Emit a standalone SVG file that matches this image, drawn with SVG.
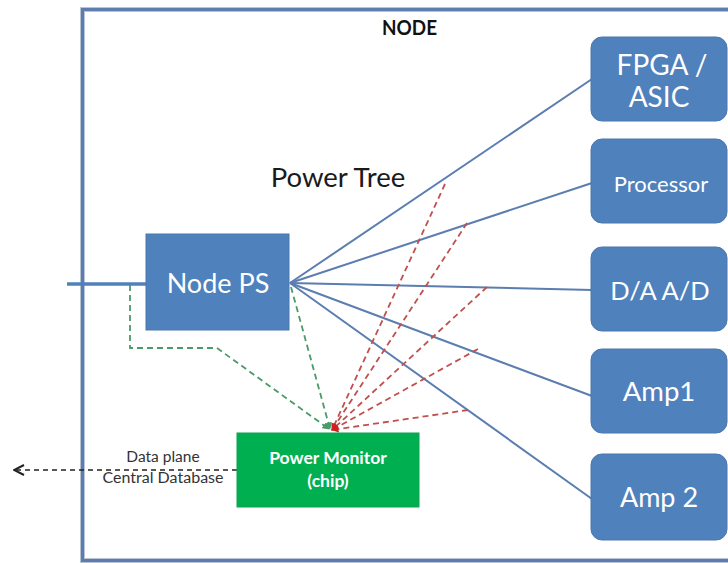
<svg xmlns="http://www.w3.org/2000/svg" width="728" height="563" viewBox="0 0 728 563">
  <style>
    .lbl { font-family: Lato, "Open Sans", sans-serif; }
    .box { fill: #4f81bd; stroke: #4a76ad; stroke-width: 1; }
    .boxtxt { fill: #ffffff; text-anchor: middle; font-family: Lato, "Open Sans", sans-serif; }
    .feed { stroke: #5b7db0; stroke-width: 2; fill: none; }
    .sense { stroke: #c0504d; stroke-width: 1.8; stroke-dasharray: 6 4; fill: none; }
    .gsense { stroke: #4a9a6a; stroke-width: 1.8; stroke-dasharray: 6 4; fill: none; }
  </style>
  <defs>
    <marker id="redTip" viewBox="0 0 10 10" refX="9" refY="5" markerWidth="4" markerHeight="4" orient="auto">
      <path d="M0,0 L10,5 L0,10 z" fill="#d02020"/>
    </marker>
    <marker id="greenTip" viewBox="0 0 10 10" refX="9" refY="5" markerWidth="4" markerHeight="4" orient="auto">
      <path d="M0,0 L10,5 L0,10 z" fill="#4a9a6a"/>
    </marker>
    <marker id="openTip" viewBox="0 0 12 12" refX="11" refY="6" markerWidth="12" markerHeight="12" markerUnits="userSpaceOnUse" orient="auto">
      <path d="M1,1 L11,6 L1,11" fill="none" stroke="#222" stroke-width="2"/>
    </marker>
  </defs>

  <rect width="728" height="563" fill="#ffffff"/>

  <!-- enclosing node frame -->
  <g id="node-frame">
    <rect x="82.5" y="9.5" width="700" height="551" fill="none" stroke="#b8c4d4" stroke-width="5"/>
    <rect x="82.5" y="9.5" width="700" height="551" fill="none" stroke="#5b7db0" stroke-width="3"/>
    <text x="409.5" y="35" class="lbl" font-size="21" font-weight="bold" fill="#111" text-anchor="middle" textLength="55" lengthAdjust="spacingAndGlyphs">NODE</text>
  </g>

  <text x="338" y="187" class="lbl" font-size="27.5" fill="#1a1a1a" text-anchor="middle">Power Tree</text>

  <!-- connectors -->
  <g id="connectors">
    <!-- supply input -->
    <line x1="67" y1="284" x2="147" y2="284" stroke="#4f81bd" stroke-width="3.5"/>
    <!-- power rails -->
    <line class="feed" x1="290" y1="283" x2="592" y2="79"/>
    <line class="feed" x1="290" y1="283" x2="592" y2="183"/>
    <line class="feed" x1="290" y1="283" x2="592" y2="290"/>
    <line class="feed" x1="290" y1="283" x2="592" y2="396"/>
    <line class="feed" x1="290" y1="283" x2="592" y2="499"/>
    <!-- rail sense lines -->
    <line class="sense" x1="445" y1="184" x2="332" y2="430" marker-end="url(#redTip)"/>
    <line class="sense" x1="467" y1="223" x2="332" y2="430" marker-end="url(#redTip)"/>
    <line class="sense" x1="487" y1="287" x2="332" y2="430" marker-end="url(#redTip)"/>
    <line class="sense" x1="478" y1="349" x2="332" y2="430" marker-end="url(#redTip)"/>
    <line class="sense" x1="468" y1="410" x2="332" y2="430" marker-end="url(#redTip)"/>
    <!-- supply sense lines -->
    <path class="gsense" d="M130,285 V348 H217 L329,429" marker-end="url(#greenTip)"/>
    <path class="gsense" d="M291,287 L330,429" marker-end="url(#greenTip)"/>
    <!-- data export -->
    <line x1="237" y1="470" x2="14" y2="470" stroke="#222" stroke-width="1.5" stroke-dasharray="5 4" marker-end="url(#openTip)"/>
    <text x="163" y="462" class="lbl" font-size="15.5" fill="#333" text-anchor="middle">Data plane</text>
    <text x="163" y="483" class="lbl" font-size="15.5" fill="#333" text-anchor="middle" textLength="121" lengthAdjust="spacingAndGlyphs">Central Database</text>
  </g>

  <g id="node-ps">
    <rect class="box" x="146" y="234" width="143" height="96"/>
    <text class="boxtxt" x="218" y="293" font-size="27">Node PS</text>
  </g>

  <g id="power-monitor">
    <rect x="237" y="433" width="182" height="74" fill="#00b050" stroke="#10a050"/>
    <text class="boxtxt" x="328" y="464" font-size="17.5" font-weight="bold">Power Monitor</text>
    <text class="boxtxt" x="328" y="487" font-size="17.5" font-weight="bold">(chip)</text>
  </g>

  <g id="fpga-asic">
    <rect class="box" x="591" y="37" width="136" height="84" rx="11"/>
    <text class="boxtxt" x="662" y="75" font-size="28">FPGA /</text>
    <text class="boxtxt" x="659" y="107" font-size="28">ASIC</text>
  </g>

  <g id="processor">
    <rect class="box" x="591" y="139" width="136" height="84" rx="11"/>
    <text class="boxtxt" x="661" y="192" font-size="22">Processor</text>
  </g>

  <g id="da-ad">
    <rect class="box" x="591" y="247" width="136" height="84" rx="11"/>
    <text class="boxtxt" x="660" y="300" font-size="25.5">D/A A/D</text>
  </g>

  <g id="amp1">
    <rect class="box" x="591" y="349" width="136" height="84" rx="11"/>
    <text class="boxtxt" x="659" y="401" font-size="27.5">Amp1</text>
  </g>

  <g id="amp2">
    <rect class="box" x="591" y="454" width="136" height="86" rx="11"/>
    <text class="boxtxt" x="659" y="507" font-size="27">Amp 2</text>
  </g>
</svg>
